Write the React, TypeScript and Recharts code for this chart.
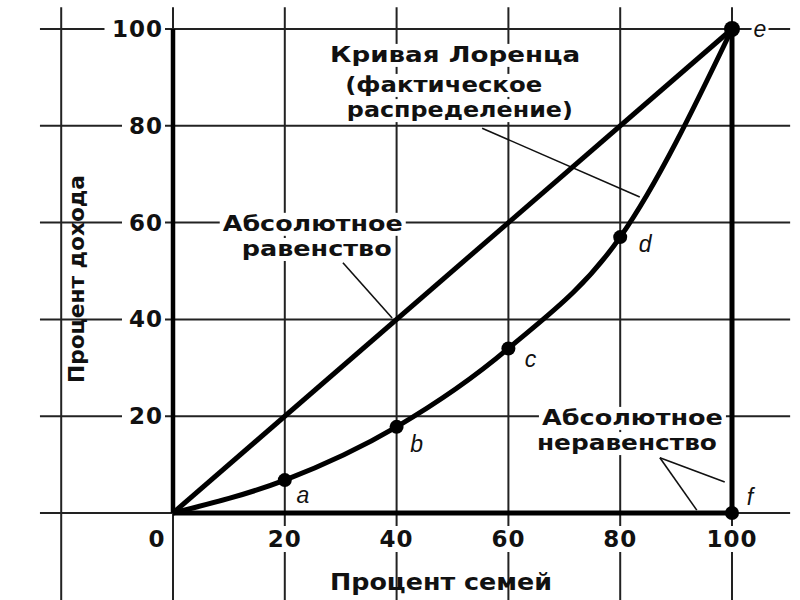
import React from 'react';
import {
  ComposedChart,
  Line,
  Scatter,
  XAxis,
  YAxis,
  ReferenceLine,
  ReferenceDot,
  Label,
} from 'recharts';

// ---------- data ----------
const lorenzX = [0, 20, 40, 60, 80, 100];
const lorenzY = [0, 6.8, 17.8, 34, 57, 100];
const equalityX = [0, 100];
const equalityY = [0, 100];
const inequalityX = [0, 100, 100];
const inequalityY = [0, 0, 100];
const incomeAxisX = [0, 0];
const incomeAxisY = [0, 100];
const pointX = [20, 40, 60, 80, 100, 100];
const pointY = [6.8, 17.8, 34, 57, 100, 0];
const pointNames = ['a', 'b', 'c', 'd', 'e', 'f'];
const xTicks = [0, 20, 40, 60, 80, 100];
const yTicks = [20, 40, 60, 80, 100];
const gridX = [-20, 0, 20, 40, 60, 80, 100];
const gridY = [0, 20, 40, 60, 80, 100];
const xTitle = 'Процент семей';
const yTitle = 'Процент дохода';
const lorenzNote = ['Кривая Лоренца', '(фактическое', 'распределение)'];
const equalityNote = ['Абсолютное', 'равенство'];
const inequalityNote = ['Абсолютное', 'неравенство'];

// ---------- layout (annotation anchors in data units, sizes in px) ----------
const lorenzNoteAt = [
  { x: 28.1, y: 93.2, w: 250 },
  { x: 30.8, y: 87.0, w: 197 },
  { x: 31.1, y: 81.8, w: 226 },
];
const equalityNoteAt = [
  { x: 8.9, y: 58.3, w: 180 },
  { x: 12.3, y: 53.1, w: 150 },
];
const inequalityNoteAt = [
  { x: 66.0, y: 18.2, w: 181 },
  { x: 65.1, y: 13.0, w: 180 },
];
const pointerSegments = [
  [{ x: 30.4, y: 51.7 }, { x: 39.2, y: 40.3 }],
  [{ x: 55.3, y: 79.5 }, { x: 83.5, y: 65.3 }],
  [{ x: 87.1, y: 11.4 }, { x: 98.7, y: 6.4 }],
  [{ x: 87.1, y: 11.4 }, { x: 93.7, y: 0.6 }],
];
const pointLabelOffset: Record<string, { dx: number; dy: number }> = {
  a: { dx: 18, dy: 23 },
  b: { dx: 20, dy: 25 },
  c: { dx: 22, dy: 19 },
  d: { dx: 25, dy: 15 },
  e: { dx: 28, dy: 8 },
  f: { dx: 18, dy: -8 },
};

const zip = (xs: number[], ys: number[]) => xs.map((x, i) => ({ x, y: ys[i] }));
const lorenzData = zip(lorenzX, lorenzY);
const equalityData = zip(equalityX, equalityY);
const inequalityData = zip(inequalityX, inequalityY);
const incomeAxisData = zip(incomeAxisX, incomeAxisY);
const pointData = pointX.map((x, i) => ({ x, y: pointY[i], name: pointNames[i] }));

const INK = '#111';
const GRID = '#222';
const BOLD = { fontFamily: 'DejaVu Sans', fontWeight: 'bold' as const };

const XTick = (props: any) => {
  const { x, y, payload } = props;
  const label = String(payload.value);
  const cx = x + (payload.value === 0 ? -16 : 0);
  const w = label.length * 17 + 6;
  return (
    <g>
      <rect x={cx - w / 2} y={y + 13} width={w} height={26} fill="#fff" />
      <text x={cx} y={y + 34} textAnchor="middle" fontSize={23} letterSpacing={1} fill={INK} {...BOLD}>
        {label}
      </text>
    </g>
  );
};

const YTick = (props: any) => {
  const { x, y, payload } = props;
  const label = String(payload.value);
  const w = label.length * 17.5;
  return (
    <g>
      <rect x={x - 10 - w - 6} y={y - 11} width={w + 8} height={22} fill="#fff" />
      <text x={x - 10} y={y + 8} textAnchor="end" fontSize={23} letterSpacing={1} fill={INK} {...BOLD}>
        {label}
      </text>
    </g>
  );
};

const noteShape = (text: string, w: number) => (p: any) => (
  <g>
    <rect x={p.cx - 3} y={p.cy - 18} width={w + 6} height={23} fill="#fff" />
    <text
      x={p.cx}
      y={p.cy}
      fontSize={21}
      textLength={w}
      lengthAdjust="spacingAndGlyphs"
      fill={INK}
      {...BOLD}
    >
      {text}
    </text>
  </g>
);

const PointMark = (props: any) => {
  const { cx, cy, payload } = props;
  const off = pointLabelOffset[payload.name];
  return (
    <g>
      <circle cx={cx} cy={cy} r={payload.name === 'e' ? 8 : 7} fill="#000" />
      <text
        x={cx + off.dx}
        y={cy + off.dy}
        textAnchor="middle"
        fontFamily="Liberation Sans"
        fontStyle="italic"
        fontSize={23}
        fill={INK}
        stroke="#fff"
        strokeWidth={6}
        paintOrder="stroke"
      >
        {payload.name}
      </text>
    </g>
  );
};

export default function App() {
  return (
    <div style={{ position: 'absolute', left: 0, top: 0, width: 800, height: 600, background: '#fff' }}>
      <ComposedChart width={800} height={600} margin={{ top: 29, left: 113, right: 68, bottom: 57 }}>
        {gridX.map((gx) => (
          <ReferenceLine
            key={'gx' + gx}
            segment={[{ x: gx, y: -20 }, { x: gx, y: 104.5 }]}
            stroke={GRID}
            strokeWidth={2}
            ifOverflow="visible"
          />
        ))}
        {gridY.map((gy) => (
          <ReferenceLine
            key={'gy' + gy}
            segment={[{ x: -23.8, y: gy }, { x: 110.4, y: gy }]}
            stroke={GRID}
            strokeWidth={2}
            ifOverflow="visible"
          />
        ))}
        {pointerSegments.map((seg, i) => (
          <ReferenceLine key={'ptr' + i} segment={seg} stroke={INK} strokeWidth={1.6} ifOverflow="visible" />
        ))}
        <Line data={incomeAxisData} dataKey="y" type="linear" stroke="#000" strokeWidth={4.5} dot={false} isAnimationActive={false} />
        <Line data={equalityData} dataKey="y" type="linear" stroke="#000" strokeWidth={5} dot={false} isAnimationActive={false} />
        <Line data={inequalityData} dataKey="y" type="linear" stroke="#000" strokeWidth={5} dot={false} isAnimationActive={false} />
        <Line data={lorenzData} dataKey="y" type="monotone" stroke="#000" strokeWidth={5} dot={false} isAnimationActive={false} />
        <Scatter data={pointData} dataKey="y" shape={PointMark} isAnimationActive={false} />
        {lorenzNote.map((t, i) => (
          <ReferenceDot key={'ln' + i} x={lorenzNoteAt[i].x} y={lorenzNoteAt[i].y} r={1} ifOverflow="visible" shape={noteShape(t, lorenzNoteAt[i].w)} />
        ))}
        {equalityNote.map((t, i) => (
          <ReferenceDot key={'en' + i} x={equalityNoteAt[i].x} y={equalityNoteAt[i].y} r={1} ifOverflow="visible" shape={noteShape(t, equalityNoteAt[i].w)} />
        ))}
        {inequalityNote.map((t, i) => (
          <ReferenceDot key={'in' + i} x={inequalityNoteAt[i].x} y={inequalityNoteAt[i].y} r={1} ifOverflow="visible" shape={noteShape(t, inequalityNoteAt[i].w)} />
        ))}
        <XAxis
          type="number"
          dataKey="x"
          domain={[0, 100]}
          ticks={xTicks}
          interval={0}
          height={30}
          tickSize={0}
          tickMargin={0}
          tickLine={false}
          axisLine={false}
          tick={<XTick />}
        >
          <Label
            content={(p: any) => (
              <text x={p.viewBox.x + 157} y={p.viewBox.y + 77} fontSize={23} textLength={222} lengthAdjust="spacingAndGlyphs" fill={INK} {...BOLD}>
                {xTitle}
              </text>
            )}
          />
        </XAxis>
        <YAxis
          type="number"
          dataKey="y"
          domain={[0, 100]}
          ticks={yTicks}
          interval={0}
          width={60}
          tickSize={0}
          tickMargin={0}
          tickLine={false}
          axisLine={false}
          tick={<YTick />}
        >
          <Label
            content={(p: any) => {
              const cx = p.viewBox.x - 29;
              const cy = p.viewBox.y + 250;
              return (
                <text
                  x={cx}
                  y={cy}
                  transform={`rotate(-90, ${cx}, ${cy})`}
                  textAnchor="middle"
                  fontSize={22}
                  textLength={208}
                  lengthAdjust="spacingAndGlyphs"
                  fill={INK}
                  {...BOLD}
                >
                  {yTitle}
                </text>
              );
            }}
          />
        </YAxis>
      </ComposedChart>
    </div>
  );
}
